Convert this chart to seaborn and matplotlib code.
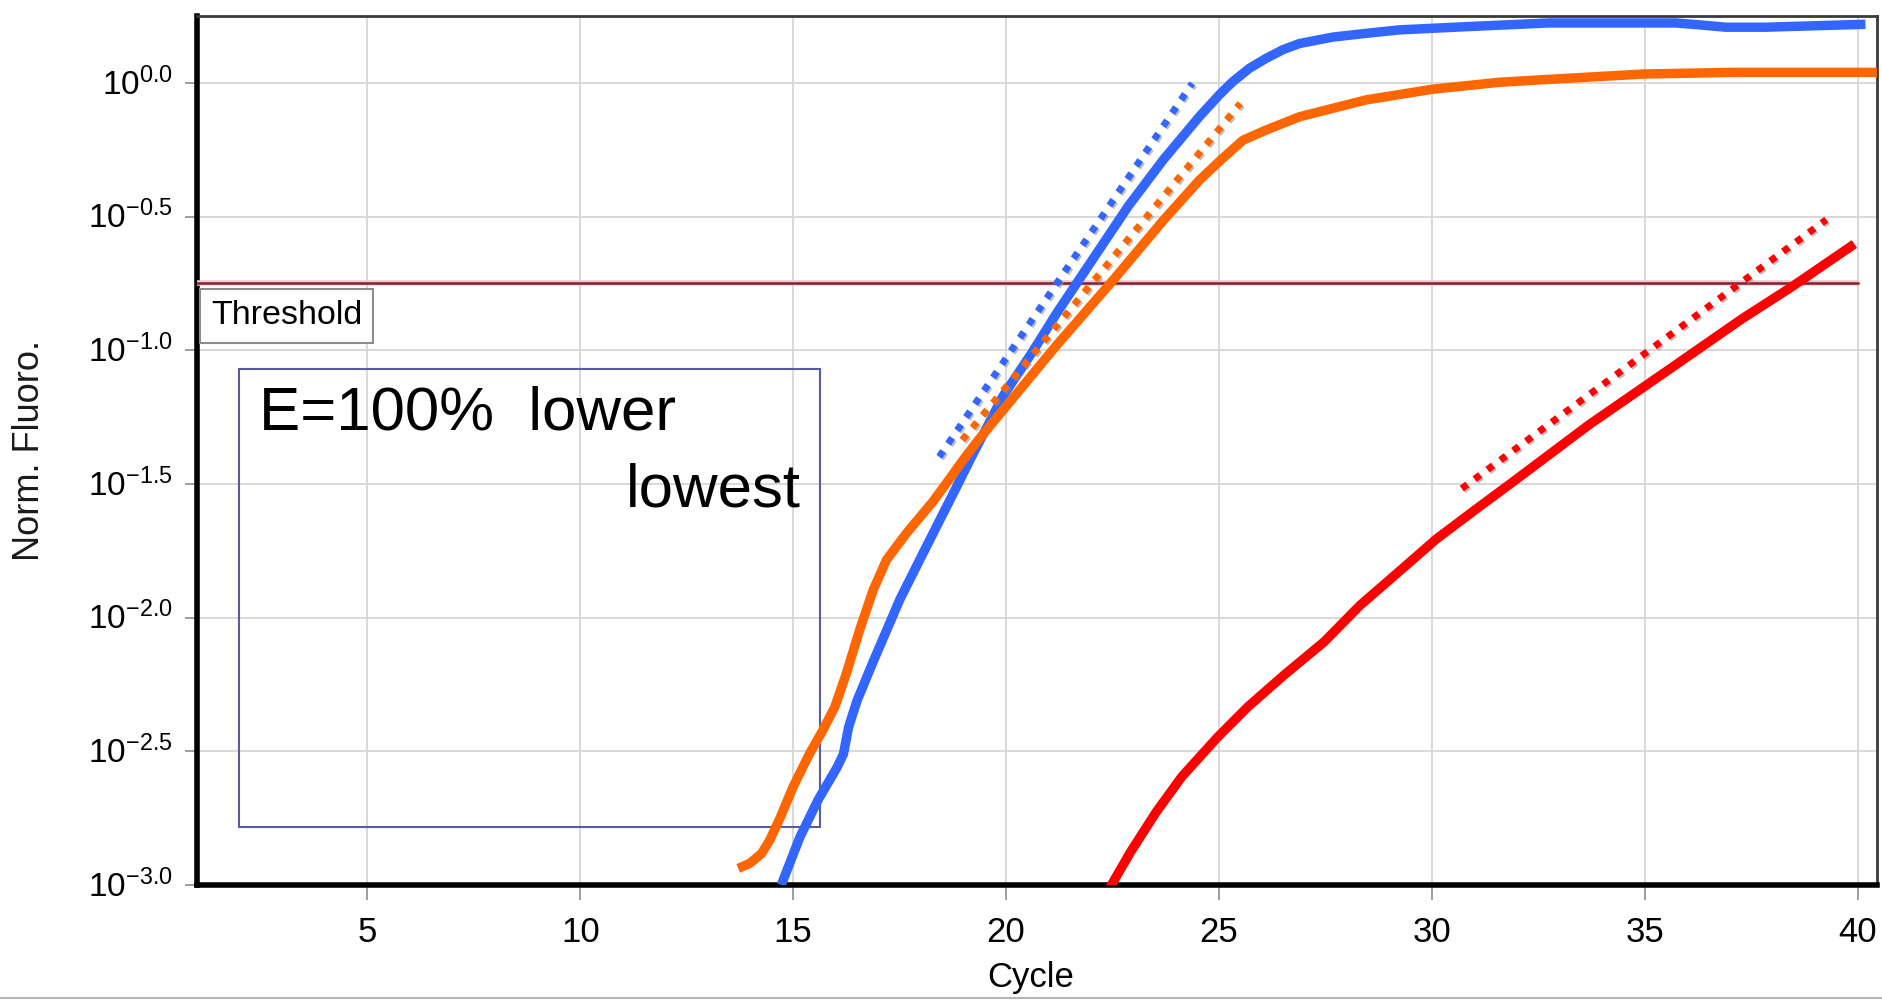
import numpy as np
import pandas as pd
import matplotlib
matplotlib.use("Agg")
import matplotlib.pyplot as plt
import matplotlib.patheffects as pe
from matplotlib.patches import Rectangle
from matplotlib.lines import Line2D
import seaborn as sns

# ---------------- data ----------------
blue_cycle = [14.72, 15.16, 15.59, 16.03, 16.18, 16.30, 16.50, 16.89, 17.51, 18.14, 18.76,
              19.15, 19.93, 20.60, 21.19, 22.03, 22.87, 23.70, 24.54, 25.00, 25.32, 25.71,
              26.10, 26.50, 26.89, 27.67, 28.45, 29.23, 30.80, 32.75, 35.72, 36.27, 36.90,
              37.83, 40.18]
blue_log = [-3.00, -2.82, -2.68, -2.56, -2.51, -2.41, -2.31, -2.16, -1.93, -1.73, -1.535,
            -1.41, -1.17, -1.01, -0.86, -0.66, -0.46, -0.285, -0.125, -0.045, 0.005, 0.055,
            0.092, 0.125, 0.148, 0.172, 0.186, 0.199, 0.211, 0.225, 0.225, 0.218, 0.209,
            0.209, 0.220]

orange_cycle = [13.71, 13.98, 14.26, 14.45, 14.69, 15.00, 15.39, 15.70, 15.98, 16.25, 16.56,
                16.88, 17.19, 17.66, 18.28, 18.68, 18.99, 19.35, 19.93, 21.19, 22.45, 23.70,
                24.54, 25.04, 25.56, 26.10, 26.89, 28.45, 30.01, 31.58, 32.75, 34.98, 37.05, 40.50]
orange_log = [-2.938, -2.919, -2.882, -2.832, -2.750, -2.632, -2.507, -2.420, -2.333, -2.208,
              -2.046, -1.896, -1.784, -1.684, -1.566, -1.479, -1.410, -1.335, -1.223, -0.980,
              -0.749, -0.512, -0.363, -0.288, -0.214, -0.176, -0.126, -0.063, -0.023, 0.003,
              0.014, 0.034, 0.040, 0.040]

red_cycle = [22.40, 22.92, 23.52, 24.12, 24.96, 25.68, 26.51, 27.47, 28.31, 29.15, 30.10,
             31.06, 31.90, 33.69, 35.49, 37.28, 38.48, 39.92]
red_log = [-3.02, -2.877, -2.728, -2.596, -2.448, -2.333, -2.217, -2.09, -1.954, -1.838,
           -1.706, -1.591, -1.492, -1.278, -1.080, -0.882, -0.759, -0.602]

blue_fit_cycle = [18.43, 24.37]
blue_fit_log = [-1.398, -0.001]
orange_fit_cycle = [18.97, 25.50]
orange_fit_log = [-1.335, -0.076]
red_fit_cycle = [30.70, 39.26]
red_fit_log = [-1.517, -0.511]

threshold_log = -0.748
threshold_cycles = [1.0, 40.0]

x_ticks = [5, 10, 15, 20, 25, 30, 35, 40]
y_exponents = [-3.0, -2.5, -2.0, -1.5, -1.0, -0.5, 0.0]
y_tick_labels = ["$10^{-3.0}$", "$10^{-2.5}$", "$10^{-2.0}$", "$10^{-1.5}$",
                 "$10^{-1.0}$", "$10^{-0.5}$", "$10^{0.0}$"]

x_label = "Cycle"
y_label = "Norm. Fluoro."
threshold_text = "Threshold"
note_line1 = "E=100%  lower"
note_line2 = "lowest"

colors = {"blue": "#3366FF", "orange": "#FF6600", "red": "#FF0000"}

# ---------------- style ----------------
sns.set_theme(style="white")
plt.rcParams["font.family"] = ["Liberation Sans", "DejaVu Sans"]
plt.rcParams["mathtext.default"] = "regular"
plt.rcParams["text.color"] = "black"
plt.rcParams["axes.labelcolor"] = "black"
plt.rcParams["xtick.labelcolor"] = "black"
plt.rcParams["ytick.labelcolor"] = "black"

fig = plt.figure(figsize=(18.83, 10.02), dpi=100)
fig.patch.set_facecolor("white")
ax = fig.add_axes([0.10462, 0.11677, 0.89219, 0.86727])
ax.set_facecolor("white")

# ---------------- curves ----------------
curves = pd.concat([
    pd.DataFrame({"Cycle": blue_cycle, "Fluoro": 10 ** np.array(blue_log), "sample": "blue"}),
    pd.DataFrame({"Cycle": orange_cycle, "Fluoro": 10 ** np.array(orange_log), "sample": "orange"}),
    pd.DataFrame({"Cycle": red_cycle, "Fluoro": 10 ** np.array(red_log), "sample": "red"}),
], ignore_index=True)

sns.lineplot(data=curves, x="Cycle", y="Fluoro", hue="sample", palette=colors,
             sort=False, estimator=None, legend=False, lw=6.8, ax=ax,
             solid_joinstyle="round", solid_capstyle="butt", zorder=4)

shadow = [pe.SimpleLineShadow(offset=(1.2, -1.2), shadow_color="#8a8a8a", alpha=0.55),
          pe.Normal()]
for name, fc, fl in [("blue", blue_fit_cycle, blue_fit_log),
                     ("orange", orange_fit_cycle, orange_fit_log),
                     ("red", red_fit_cycle, red_fit_log)]:
    fit = pd.DataFrame({"Cycle": fc, "Fluoro": 10 ** np.array(fl)})
    sns.lineplot(data=fit, x="Cycle", y="Fluoro", color=colors[name], lw=5,
                 linestyle=(0, (1, 1.3)), dash_capstyle="butt", sort=False,
                 estimator=None, ax=ax, zorder=5, path_effects=shadow)

# threshold
thr = pd.DataFrame({"Cycle": threshold_cycles, "Fluoro": [10 ** threshold_log] * 2})
sns.lineplot(data=thr, x="Cycle", y="Fluoro", color="#7d2232", lw=1.8, ax=ax, zorder=3,
             estimator=None, sort=False,
             path_effects=[pe.Stroke(linewidth=4, foreground="#f3c6cd"), pe.Normal()])

# ---------------- axes ----------------
ax.set_yscale("log")
ax.set_xlim(1.0, 40.45)
ax.set_ylim(10 ** -3.0, 10 ** 0.251)
ax.set_xticks(x_ticks)
ax.set_xticklabels([str(t) for t in x_ticks])
ax.set_yticks([10 ** e for e in y_exponents])
ax.yaxis.set_minor_locator(matplotlib.ticker.NullLocator())
ax.tick_params(axis="x", which="major", direction="out", length=11, width=1.2,
               color="#8c8c8c", labelsize=25, labelcolor="black", pad=11,
               bottom=True, top=False)
ax.tick_params(axis="y", which="major", direction="out", length=8.6, width=1.2,
               color="#8c8c8c", labelleft=False, left=True, right=False)
ax.grid(True, which="major", color="#d6d6d6", lw=1.3)
ax.set_axisbelow(True)

for e, lab in zip(y_exponents, y_tick_labels):
    ax.annotate(lab, xy=(0, 10 ** e), xycoords=("axes fraction", "data"),
                xytext=(-17.5, -8.4), textcoords="offset points",
                ha="right", va="baseline", fontsize=24, color="black",
                annotation_clip=False)

for side in ["left", "bottom"]:
    ax.spines[side].set_linewidth(4.0)
    ax.spines[side].set_color("black")
for side in ["top", "right"]:
    ax.spines[side].set_linewidth(2.0)
    ax.spines[side].set_color("#3a3a3a")
    ax.spines[side].set_visible(True)

ax.set_xlabel(x_label, fontsize=25, color="black")
ax.set_ylabel(y_label, fontsize=26, color="#1a1a1a")
ax.xaxis.set_label_coords(0.4964, -0.088)
ax.yaxis.set_label_coords(-0.089, 0.5)

# threshold label
ax.text(0.0083, 10 ** -0.903, threshold_text,
        transform=matplotlib.transforms.blended_transform_factory(ax.transAxes, ax.transData),
        fontsize=24.5, ha="left", va="baseline", zorder=6, color="black",
        bbox=dict(boxstyle="square,pad=0.33", fc="white", ec="#8c8c8c", lw=1.5))

# annotation box
ax.add_patch(Rectangle((0.025, 0.0667), 0.3458, 0.5271, transform=ax.transAxes,
                       fill=False, ec="#5b5b9b", lw=1.5, zorder=2))
ax.text(0.0367, 0.5236, note_line1, transform=ax.transAxes, fontsize=44.5,
        ha="left", va="baseline", zorder=6, color="black")
ax.text(0.2555, 0.4353, note_line2, transform=ax.transAxes, fontsize=44.5,
        ha="left", va="baseline", zorder=6, color="black")

fig.add_artist(Line2D([0, 1], [0.0035, 0.0035], transform=fig.transFigure,
                      color="#b4b4b4", lw=1.5))

fig.savefig("out.png", dpi=100, facecolor="white")
